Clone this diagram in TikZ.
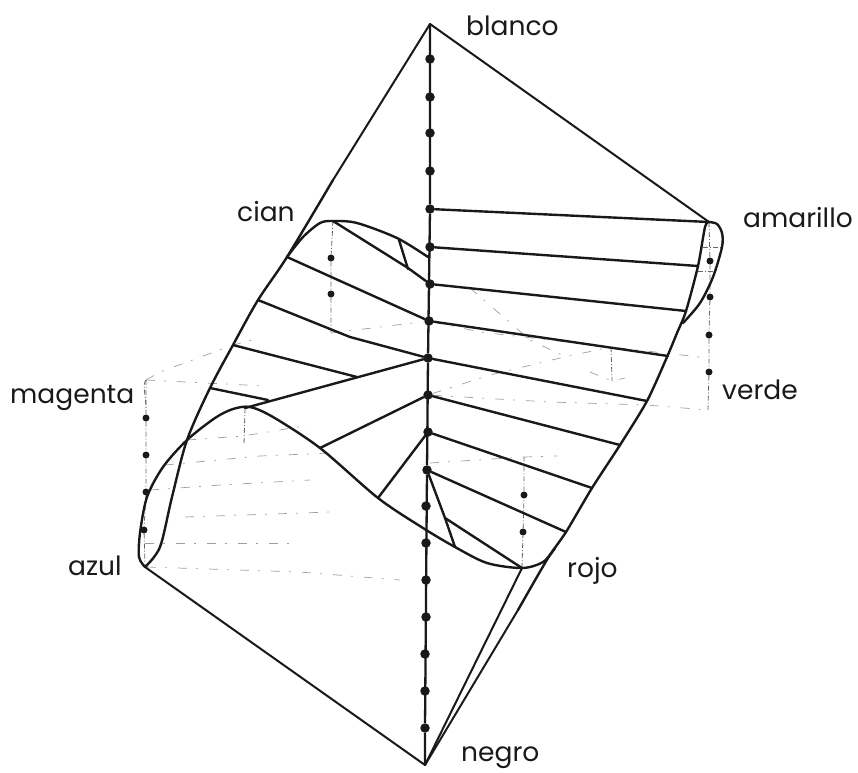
\documentclass[tikz,border=0pt]{standalone}
\usepackage{fontspec}
\setmainfont{Poppins}
\tikzset{
  x=1pt,y=-1pt,
  edge/.style={line width=2.4pt,line join=round,line cap=round,black!90},
  thin edge/.style={line width=2pt,line join=round,line cap=round,black!90},
  axisline/.style={line width=2.3pt,black!90},
  dot/.style={circle,fill=black!90,inner sep=0pt,minimum size=9.5pt},
  sdot/.style={circle,fill=black!90,inner sep=0pt,minimum size=7pt},
  vdash/.style={line width=0.8pt,black!60,dash pattern=on 5pt off 2pt on 1pt off 2pt},
  faint/.style={line width=0.7pt,black!38,dash pattern=on 9pt off 9pt on 2pt off 11pt},
  lab/.style={font=\fontsize{26.5}{28}\selectfont,inner sep=0pt,text=black!90,anchor=base west},
}
\begin{document}
\begin{tikzpicture}
\useasboundingbox (0,0) rectangle (858,772);
% corners
\coordinate (blanco) at (430,24);
\coordinate (negro) at (425,765);
\coordinate (amarillo) at (709,222);
\coordinate (azul) at (145,567);
\coordinate (rojo) at (522,568);
\coordinate (cianp) at (333,221);
\coordinate (magp) at (245,408);
% axis dots
\foreach \i/\xx/\yy in {1/430/59,2/430/97,3/430/133,4/430/171,5/430/209,6/430/247,7/430/284,8/429/321,9/428/358,10/428/395,11/428/432,12/427/470,13/426/506,14/426/543,15/426/580,16/426/617,17/425/654,18/425/691,19/425/728}
  \node[dot] (a\i) at (\xx,\yy) {};
\draw[axisline] (blanco) -- (a5) -- (a9) -- (a12) -- (a19) -- (negro);
% faint construction lines
\draw[faint] (146,380) -- (160,372) -- (233,345) -- (252,340);
\draw[faint] (146,380) -- (265,386);
\draw[faint] (187,440) -- (243,436) -- (310,425);
\draw[faint] (165,465) -- (260,456) -- (330,453);
\draw[faint] (150,490) -- (220,485) -- (310,480);
\draw[faint] (185,517) -- (330,512);
\draw[faint] (145,543) -- (290,543);
\draw[faint] (147,567) -- (300,572) -- (400,580);
\draw[faint] (331,333) -- (a8);
\draw[faint] (a8) -- (480,332) -- (611,347) -- (708,358);
\draw[faint] (a10) -- (490,375) -- (560,358) -- (611,347);
\draw[faint] (a10) -- (550,402) -- (647,405) -- (708,410);
\draw[faint] (470,288) -- (530,340) -- (566,357);
\draw[faint] (430,463) -- (524,457) -- (557,456);
\draw[faint] (590,372) -- (612,381) -- (625,378);
\draw[vdash] (146,380) .. controls (142,385) and (146,395) .. (146,410);
% vertical dash lines and dots
\node[sdot] (c1) at (331,258) {};
\node[sdot] (c2) at (331,294) {};
\coordinate (cb) at (331,333);
\draw[vdash] (cianp) -- (c1) -- (c2) -- (cb);
\node[sdot] (r1) at (524,495) {};
\node[sdot] (r2) at (523,532) {};
\coordinate (rt) at (524,457);
\draw[vdash] (rojo) -- (r2) -- (r1) -- (rt);
\node[sdot] (m1) at (146,418) {};
\node[sdot] (m2) at (146,455) {};
\node[sdot] (m3) at (146,492) {};
\node[sdot] (m4) at (144,530) {};
\draw[vdash] (146,380) -- (m1) -- (m2) -- (m3) -- (m4) -- (azul);
\node[sdot] (v1) at (710,261) {};
\node[sdot] (v2) at (710,297) {};
\node[sdot] (v3) at (709,335) {};
\node[sdot] (v4) at (709,372) {};
\draw[vdash] (amarillo) -- (v1) -- (v2) -- (v3) -- (v4) -- (708,410);
\draw[vdash] (magp) -- (244,445);
\draw[vdash] (611,347) -- (612,381);
\draw[vdash] (703,247) -- (722,247);
\draw[vdash] (698,271) -- (714,271);
% outer edges
\draw[thin edge] (azul) -- (negro);
\draw[thin edge] (blanco) -- (amarillo);
\draw[thin edge] (blanco) -- (333,180);
\draw[edge] plot[smooth,tension=0.5] coordinates {(azul) (160,547) (172,497) (187,440) (210,388) (233,345) (258,300) (287,257) (333,180)};
\draw[edge] plot[smooth,tension=0.45] coordinates {(amarillo) (705,227) (698,266) (686,311) (677,333) (667,357) (647,401) (620,445) (592,488) (566,532) (548,558) (518,610)};
\draw[thin edge] (518,610) -- (negro);
\draw[thin edge] (rojo) -- (negro);
% main curve from azul to rojo
\draw[edge] plot[smooth,tension=0.5] coordinates {(azul) (139,557) (140,533) (147,497) (163,467) (187,440) (215,418) (233,409) (250,407) (273,417) (320,448) (378,498) (423,528) (455,547) (487,563) (rojo) (543,562) (555,548)};
% cian curve
\draw[edge] plot[smooth,tension=0.5] coordinates {(287,257) (303,237) (320,223) (cianp) (357,223) (397,238) (428,257)};
% amarillo bulge
\draw[edge] plot[smooth,tension=0.5] coordinates {(amarillo) (717,224) (722,233) (722,247) (713,277) (700,303) (683,323)};
% rulings right
\draw[edge] (a5) -- (amarillo);
\draw[edge] (a6) -- (698,266);
\draw[edge] (a7) -- (686,311);
\draw[edge] (a8) -- (668,356);
\draw[edge] (a9) -- (647,401);
\draw[edge] (a10) -- (620,445);
\draw[edge] (a11) -- (592,488);
\draw[edge] (a12) -- (566,532);
% rulings left
\draw[edge] (cianp) -- (408,268) -- (a7);
\draw[edge] (399,240) -- (408,269);
\draw[edge] (287,257) -- (a8);
\draw[edge] (258,300) -- (350,337) -- (a9);
\draw[edge] (233,345) -- (357,377);
\draw[edge] (210,388) -- (268,400);
\draw[edge] (245,408) -- (a9);
\draw[edge] (320,448) -- (a10);
\draw[edge] (378,498) -- (a11);
\draw[edge] (a12) -- (445,518) -- (rojo);
\draw[edge] (445,518) -- (455,547);
% labels
\node[lab] (lb) at (466,35) {blanco};
\node[lab] (lc) at (237,221) {cian};
\node[lab] (lam) at (743,227) {amarillo};
\node[lab] (lm) at (10,403) {magenta};
\node[lab] (lv) at (722,399) {verde};
\node[lab] (laz) at (68,575) {azul};
\node[lab] (lr) at (567,577) {rojo};
\node[lab] (ln) at (461,761) {negro};
\end{tikzpicture}
\end{document}
